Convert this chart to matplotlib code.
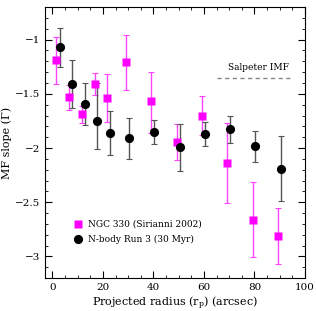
import numpy as np
import matplotlib.pyplot as plt

plt.rcParams['font.family'] = ['DejaVu Serif']
plt.rcParams['mathtext.fontset'] = 'dejavuserif'

# NGC 330 (Sirianni 2002)
r_obs = np.array([1.6, 6.6, 11.6, 16.8, 21.8, 29.3, 39.2, 49.2, 59.3, 69.3, 79.5, 89.2])
g_obs = np.array([-1.19, -1.53, -1.69, -1.41, -1.54, -1.21, -1.57, -1.94, -1.70, -2.14, -2.66, -2.81])
g_obs_hi = np.array([-0.98, -1.42, -1.61, -1.31, -1.32, -0.96, -1.30, -1.78, -1.52, -1.77, -2.31, -2.55])
g_obs_lo = np.array([-1.41, -1.65, -1.77, -1.51, -1.76, -1.46, -1.86, -2.11, -1.88, -2.51, -3.01, -3.07])

# N-body Run 3 (30 Myr)
r_sim = np.array([2.8, 7.6, 12.7, 17.7, 22.7, 30.2, 40.3, 50.4, 60.3, 70.2, 80.4, 90.4])
g_sim = np.array([-1.065, -1.41, -1.595, -1.755, -1.857, -1.907, -1.85, -1.99, -1.87, -1.82, -1.98, -2.19])
g_sim_hi = np.array([-0.89, -1.19, -1.40, -1.40, -1.66, -1.72, -1.74, -1.78, -1.76, -1.70, -1.84, -1.89])
g_sim_lo = np.array([-1.25, -1.63, -1.79, -2.01, -2.06, -2.10, -1.965, -2.21, -1.98, -1.95, -2.13, -2.49])

salpeter = -1.35

fig = plt.figure(figsize=(3.16, 3.11), dpi=100)
ax = fig.add_axes([0.142, 0.106, 0.823, 0.871])

ax.errorbar(r_sim, g_sim, yerr=[g_sim - g_sim_lo, g_sim_hi - g_sim], fmt='none',
            ecolor='#555555', elinewidth=1, capsize=2, capthick=0.8, zorder=2)
ax.errorbar(r_obs, g_obs, yerr=[g_obs - g_obs_lo, g_obs_hi - g_obs], fmt='none',
            ecolor='#ff44ff', elinewidth=1, capsize=2, capthick=0.8, zorder=1)
ax.plot(r_obs, g_obs, 's', color='magenta', ms=5.2, mec='none', zorder=3,
        label='NGC 330 (Sirianni 2002)')
ax.plot(r_sim, g_sim, 'o', color='black', ms=6.6, mec='none', zorder=4,
        label='N-body Run 3 (30 Myr)')

ax.plot([65, 94], [salpeter, salpeter], ls=(0, (3, 2.5)), color='#888888', lw=1)
ax.text(81.5, salpeter + 0.05, 'Salpeter IMF', ha='center', va='bottom', fontsize=6.5)

ax.set_xlim(-3, 100)
ax.set_ylim(-3.2, -0.7)
ax.set_xticks([0, 20, 40, 60, 80, 100])
ax.set_xticks(np.arange(0, 101, 5), minor=True)
ax.set_yticks([-3, -2.5, -2, -1.5, -1])
ax.set_yticklabels(['\u22123', '\u22122.5', '\u22122', '\u22121.5', '\u22121'])
ax.set_yticks(np.arange(-3.2, -0.69, 0.1), minor=True)
ax.tick_params(which='both', direction='in', top=True, right=True, labelsize=7.5)
ax.tick_params(which='major', length=5)
ax.tick_params(which='minor', length=2.5)

ax.set_xlabel('Projected radius (r$_\\mathrm{p}$) (arcsec)', fontsize=8, labelpad=2)
ax.set_ylabel('MF slope (\u0393)', fontsize=8, labelpad=2)

ax.legend(loc='lower left', bbox_to_anchor=(0.08, 0.095), frameon=False, fontsize=6.5,
          handletextpad=0.6, handlelength=1.0, labelspacing=0.7)

fig.savefig('out.png', dpi=100)
